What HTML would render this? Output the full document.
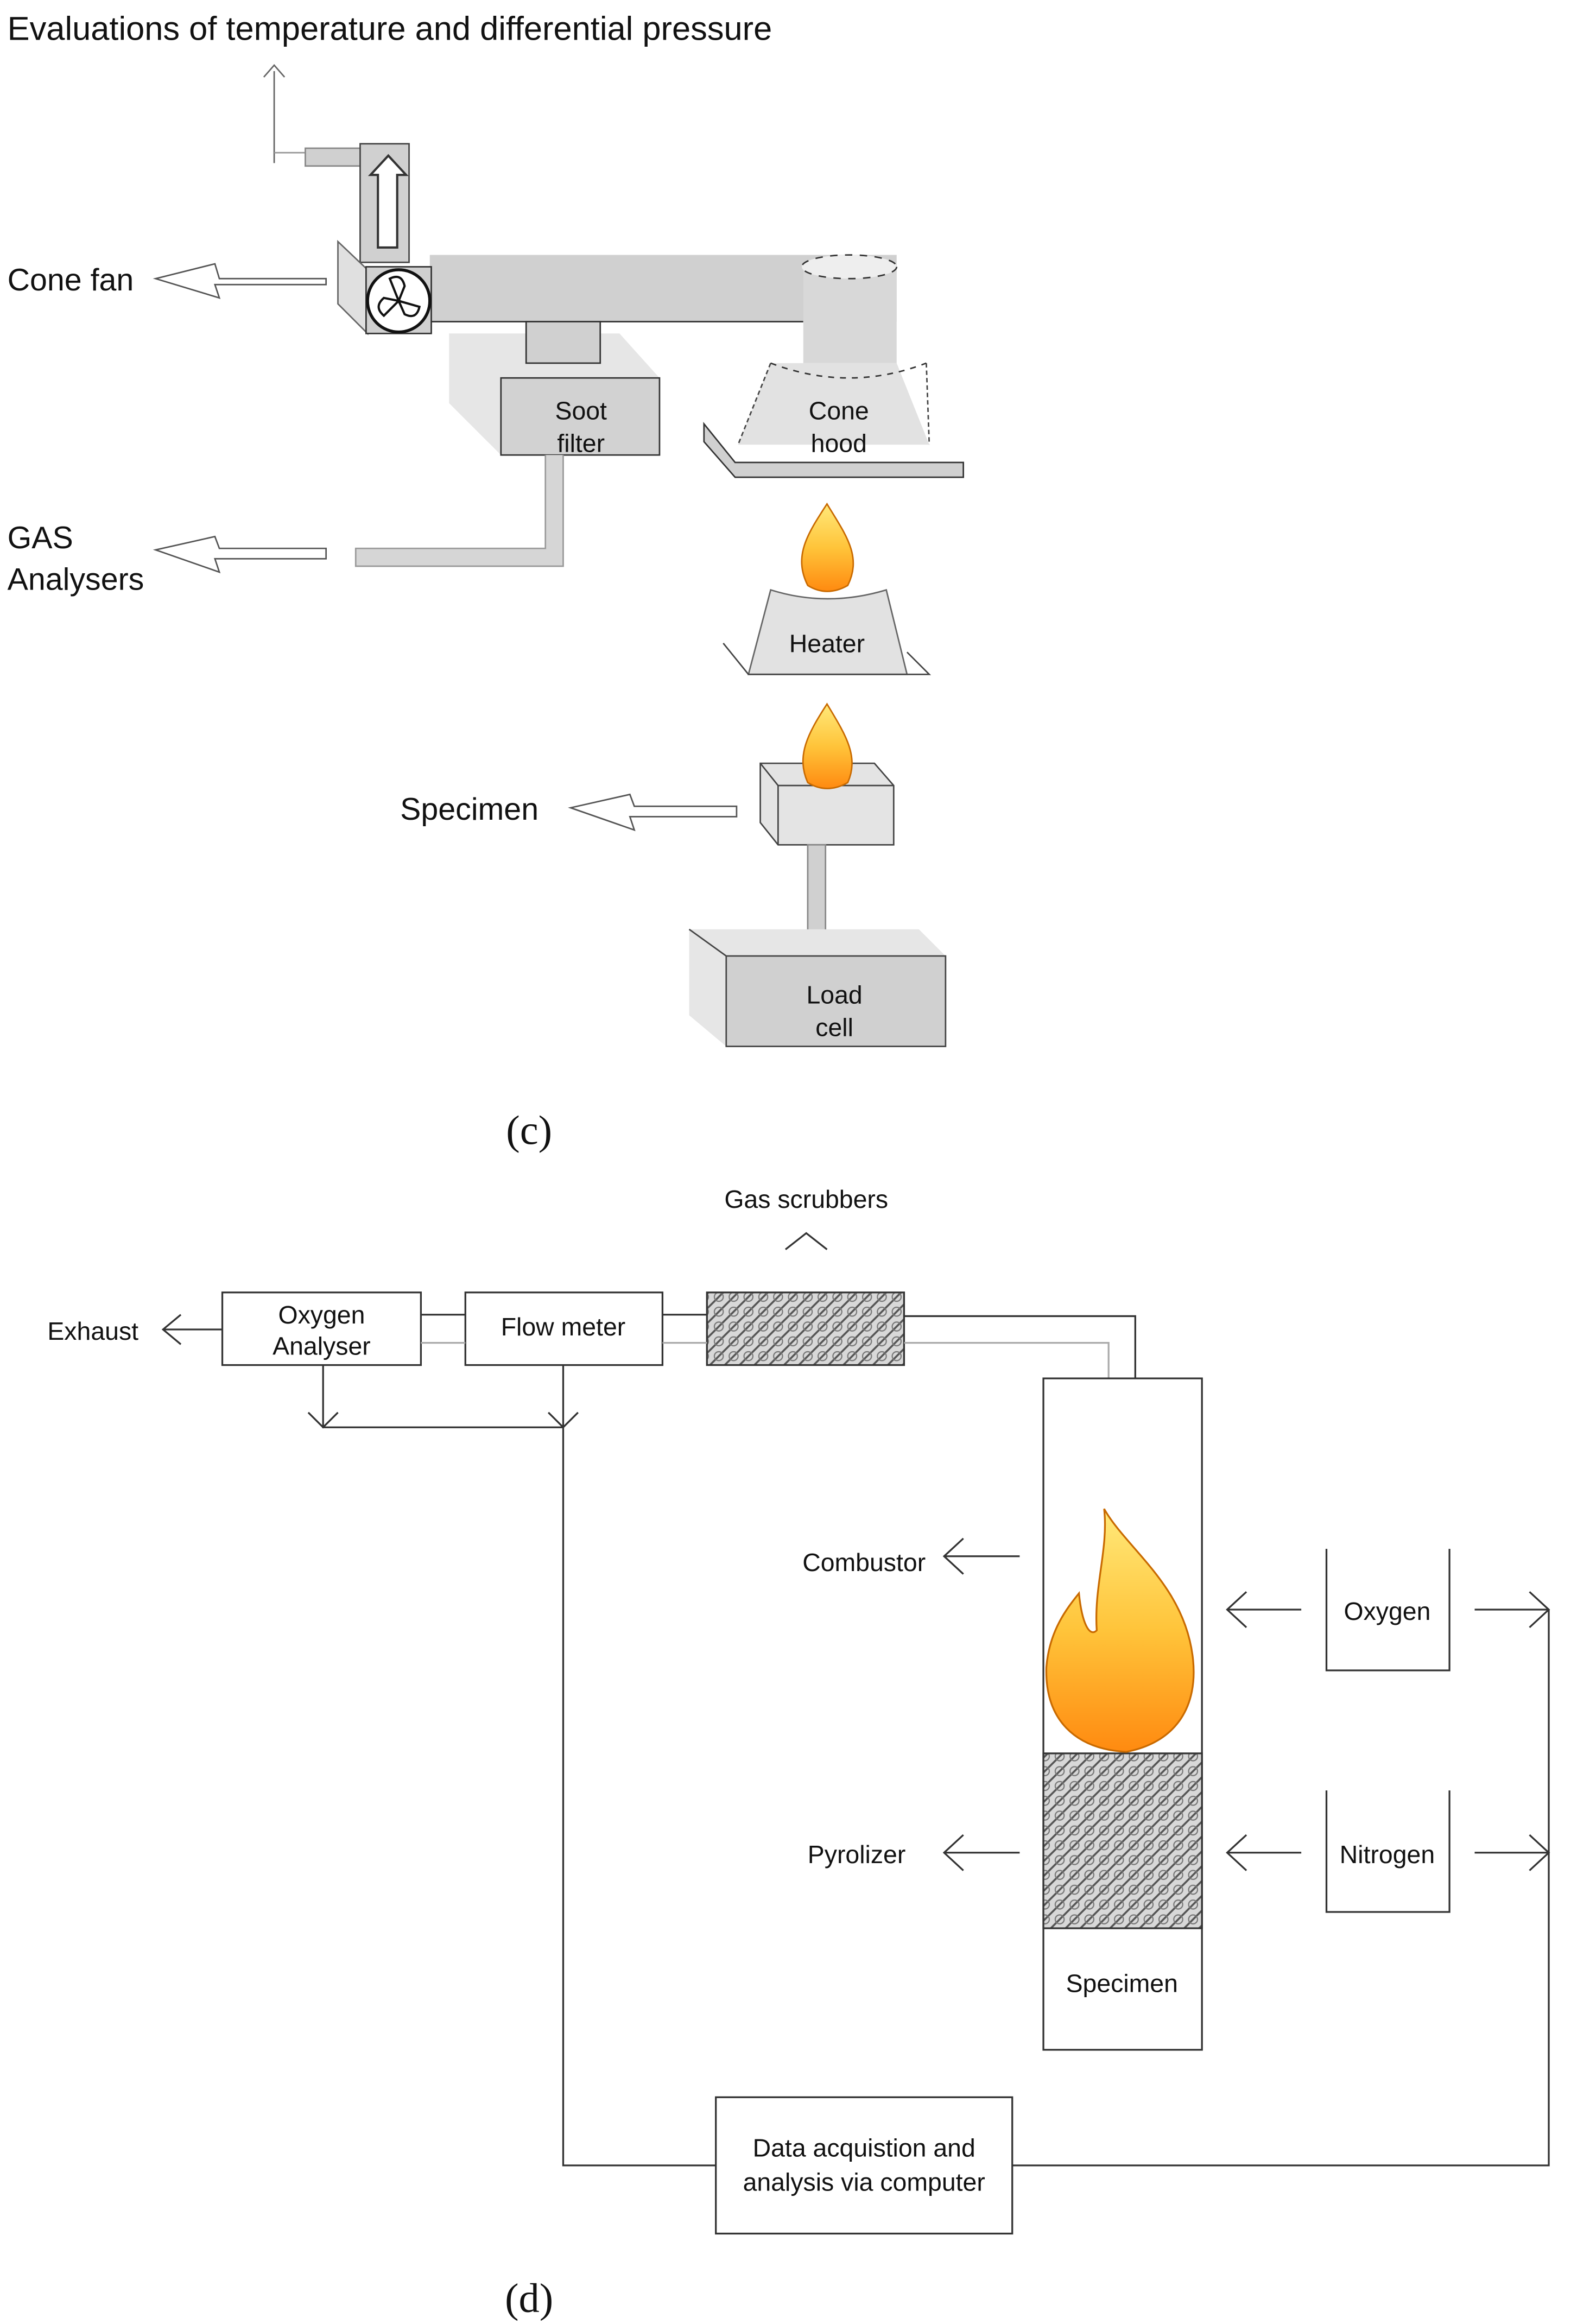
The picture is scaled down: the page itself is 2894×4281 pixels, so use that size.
<!DOCTYPE html>
<html><head><meta charset="utf-8"><style>
html,body{margin:0;padding:0;background:#fff;}
svg{display:block;}
text{font-family:"Liberation Sans",sans-serif;fill:#111;}
</style></head><body>
<svg width="2894" height="4281" viewBox="0 0 1060 1568" preserveAspectRatio="none" xmlns="http://www.w3.org/2000/svg">
<defs>
<linearGradient id="fl" x1="0" y1="0" x2="0" y2="1">
<stop offset="0" stop-color="#ffe97a"/><stop offset="0.5" stop-color="#ffc43a"/><stop offset="1" stop-color="#ff8a10"/></linearGradient>
<pattern id="hat" width="10" height="10" patternUnits="userSpaceOnUse">
<rect width="10" height="10" fill="#d8d8d8"/>
<path d="M0 10 L10 0 M-3 3 L3 -3 M7 13 L13 7" stroke="#555" stroke-width="1.3"/>
<circle cx="5" cy="5" r="3" fill="none" stroke="#777" stroke-width="0.8"/></pattern>
</defs>
<!-- (c) -->
<text x="5" y="27" font-size="22.5">Evaluations of temperature and differential pressure</text>
<path d="M185 110 V48 M178 52 L185 44 L192 52" fill="none" stroke="#666" stroke-width="1"/>
<path d="M185 103 H243" stroke="#999" stroke-width="1" fill="none"/>
<rect x="206" y="100" width="38" height="12" fill="#d0d0d0" stroke="#888"/>
<rect x="243" y="97" width="33" height="80" fill="#d0d0d0" stroke="#444"/>
<path d="M255 167 V118 H250 L262 105 L274 118 H268 V167 Z" fill="#fff" stroke="#333" stroke-width="1.5"/>
<rect x="290" y="172" width="315" height="45" fill="#d0d0d0"/>
<line x1="290" y1="217" x2="542" y2="217" stroke="#333"/>
<path d="M228 163 L248 182 V225 L228 205 Z" fill="#e0e0e0" stroke="#666"/>
<rect x="247" y="180" width="44" height="45" fill="#d0d0d0" stroke="#333"/>
<circle cx="269" cy="203" r="21" fill="#fff" stroke="#111" stroke-width="2"/>
<path d="M269 203 l-6 -15 q8 -4 10 5z M269 203 l14 4 q-2 9 -10 5z M269 203 l-10 10 q-7 -6 0 -12z" fill="#fff" stroke="#111" stroke-width="1.5"/>
<rect x="542" y="180" width="63" height="65" fill="#d8d8d8"/>
<ellipse cx="573" cy="180" rx="32" ry="8" fill="#eee" stroke="#333" stroke-dasharray="5 5"/>
<path d="M520 245 L605 245 L627 300 L498 300 Z" fill="#e2e2e2"/>
<path d="M520 245 Q573 265 625 245" fill="none" stroke="#333" stroke-dasharray="4 4"/>
<path d="M520 245 L498 300 M625 245 L627 300" stroke="#444" stroke-dasharray="3 2"/>
<path d="M475 286 L496 312 H650 V322 H496 L475 298 Z" fill="#d0d0d0" stroke="#333"/>
<text x="566" y="283" font-size="17" text-anchor="middle">Cone</text>
<text x="566" y="305" font-size="17" text-anchor="middle">hood</text>
<path d="M303 225 H418 L445 255 V307 H338 L303 272 Z" fill="#e6e6e6"/>
<rect x="338" y="255" width="107" height="52" fill="#d2d2d2" stroke="#333"/>
<rect x="355" y="217" width="50" height="28" fill="#d0d0d0" stroke="#333"/>
<text x="392" y="283" font-size="17" text-anchor="middle">Soot</text>
<text x="392" y="305" font-size="17" text-anchor="middle">filter</text>
<path d="M368 307 V370 H240 V382 H380 V307" fill="#d6d6d6" stroke="#999"/>
<text x="5" y="196" font-size="21">Cone fan</text>
<text x="5" y="370" font-size="21">GAS</text>
<text x="5" y="398" font-size="21">Analysers</text>
<text x="270" y="553" font-size="21">Specimen</text>
<path d="M220 188 V192 H145 L148 201 L105 188 L145 178 L148 188 Z" fill="#fff" stroke="#555"/>
<path d="M220 370 V377 H145 L148 386 L105 371 L145 362 L148 370 Z" fill="#fff" stroke="#555"/>
<path d="M497 544 V551 H425 L428 560 L385 545 L425 536 L428 544 Z" fill="#fff" stroke="#555"/>
<path d="M505 455 L520 398 Q558 410 598 398 L612 455 Z" fill="#e2e2e2" stroke="#666"/>
<path d="M488 434 L505 455 H627 L612 440" fill="none" stroke="#444"/>
<text x="558" y="440" font-size="17" text-anchor="middle">Heater</text>
<path d="M558 340 C545 360 535 375 545 395 Q558 403 572 395 C582 375 570 360 558 340Z" fill="url(#fl)" stroke="#c96a00"/>
<path d="M513 515 H590 L603 530 V570 H525 L513 555 Z" fill="#e4e4e4" stroke="#444"/>
<path d="M525 530 H603 M525 530 V570 M513 515 L525 530" stroke="#444" fill="none"/>
<path d="M558 475 C545 495 537 510 545 528 Q558 536 572 528 C580 510 570 495 558 475Z" fill="url(#fl)" stroke="#c96a00"/>
<rect x="545" y="570" width="12" height="70" fill="#d0d0d0" stroke="#888"/>
<path d="M465 627 H620 L638 645 V706 H490 L465 685 Z" fill="#e6e6e6"/>
<rect x="490" y="645" width="148" height="61" fill="#d0d0d0" stroke="#444"/>
<path d="M465 627 L490 645" stroke="#444"/>
<text x="563" y="677" font-size="17" text-anchor="middle">Load</text>
<text x="563" y="699" font-size="17" text-anchor="middle">cell</text>
<text x="357" y="772" font-size="28" text-anchor="middle" style="font-family:'Liberation Serif',serif">(c)</text>
<!-- (d) -->
<g stroke="#333" fill="none" stroke-width="1.2">
<text x="544" y="815" font-size="17" text-anchor="middle" stroke="none">Gas scrubbers</text>
<path d="M530 843 L544 832 L558 843"/>
<text x="32" y="904" font-size="17" stroke="none">Exhaust</text>
<path d="M150 897 H110 M122 887 L110 897 L122 907"/>
<rect x="150" y="872" width="134" height="49" fill="#fff"/>
<text x="217" y="893" font-size="17" text-anchor="middle" stroke="none">Oxygen</text>
<text x="217" y="914" font-size="17" text-anchor="middle" stroke="none">Analyser</text>
<rect x="314" y="872" width="133" height="49" fill="#fff"/>
<text x="380" y="901" font-size="17" text-anchor="middle" stroke="none">Flow meter</text>
<rect x="477" y="872" width="133" height="49" fill="url(#hat)"/>
<path d="M284 887 H314 M447 887 H477"/>
<path d="M284 906 H314 M447 906 H477 M610 906 H748 V930" stroke="#aaa"/>
<path d="M610 888 H766 V930"/>
<path d="M218 921 V963 H380 M380 921 V963 M208 953 L218 963 L228 953 M370 953 L380 963 L390 953"/>
<path d="M380 963 V1461 H483 M683 1461 H1045 V1086 M1045 1250"/>
<rect x="483" y="1415" width="200" height="92" fill="#fff"/>
<text x="583" y="1455" font-size="17" text-anchor="middle" stroke="none">Data acquistion and</text>
<text x="583" y="1478" font-size="17" text-anchor="middle" stroke="none">analysis via computer</text>
<rect x="704" y="930" width="107" height="453" fill="#fff"/>
<rect x="704" y="1183" width="107" height="118" fill="url(#hat)"/>
<text x="757" y="1344" font-size="17" text-anchor="middle" stroke="none">Specimen</text>
<path d="M745 1018 C760 1045 800 1070 805 1120 C808 1150 795 1175 760 1182 C725 1180 705 1160 706 1125 C708 1100 720 1085 728 1075 C730 1095 735 1105 740 1100 C738 1070 748 1045 745 1018Z" fill="url(#fl)" stroke="#c96a00"/>
<text x="583" y="1060" font-size="17" text-anchor="middle" stroke="none">Combustor</text>
<path d="M688 1050 H637 M650 1038 L637 1050 L650 1062"/>
<text x="578" y="1257" font-size="17" text-anchor="middle" stroke="none">Pyrolizer</text>
<path d="M688 1250 H637 M650 1238 L637 1250 L650 1262"/>
<path d="M895 1045 V1127 H978 V1045"/>
<text x="936" y="1093" font-size="17" text-anchor="middle" stroke="none">Oxygen</text>
<path d="M878 1086 H828 M841 1074 L828 1086 L841 1098 M995 1086 H1045 M1032 1074 L1045 1086 L1032 1098"/>
<path d="M895 1208 V1290 H978 V1208"/>
<text x="936" y="1257" font-size="17" text-anchor="middle" stroke="none">Nitrogen</text>
<path d="M878 1250 H828 M841 1238 L828 1250 L841 1262 M995 1250 H1045 M1032 1238 L1045 1250 L1032 1262"/>
</g>
<text x="357" y="1560" font-size="28" text-anchor="middle" style="font-family:'Liberation Serif',serif">(d)</text>
</svg>
</body></html>
